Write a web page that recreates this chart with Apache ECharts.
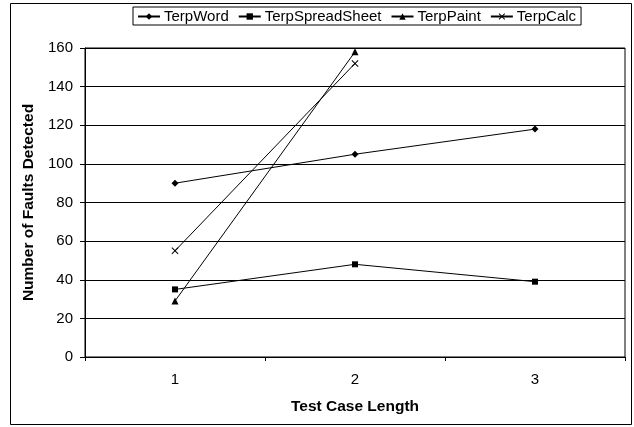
<!DOCTYPE html>
<html><head><meta charset="utf-8">
<script src="https://cdn.jsdelivr.net/npm/echarts@6/dist/echarts.min.js"></script>
<style>html,body{margin:0;padding:0;background:#fff}#c{width:634px;height:427px}</style>
</head><body><div id="c"></div>
<script>
var categories = ['1', '2', '3'];
var terpWord = [90, 105, 118];
var terpSpreadSheet = [35, 48, 39];
var terpPaint = [29, 158, null];
var terpCalc = [55, 152, null];
var yTicks = [0, 20, 40, 60, 80, 100, 120, 140, 160];

var FONT = '"Liberation Sans", Arial, sans-serif';
var crossPath = 'path://M0,1L1,0L5,4L9,0L10,1L6,5L10,9L9,10L5,6L1,10L0,9L4,5Z';
function ser(name, data, symbol, size) {
  return {
    name: name, type: 'line', data: data, symbol: symbol, symbolSize: size,
    showSymbol: true, connectNulls: false, animation: false,
    lineStyle: { color: '#000', width: 1 },
    itemStyle: { color: '#000' }
  };
}
var chart = echarts.init(document.getElementById('c'), null, { renderer: 'canvas' });
chart.setOption({
  backgroundColor: '#fff',
  animation: false,
  graphic: [{ type: 'rect', shape: { x: 10.5, y: 3.5, width: 621, height: 421 },
    style: { fill: 'none', stroke: '#000', lineWidth: 1 }, z: -1 }],
  legend: {
    left: 133, top: 7, padding: [2, 5, 1, 4], itemGap: 9, itemWidth: 22, itemHeight: 8,
    borderColor: '#000', borderWidth: 1, backgroundColor: '#fff',
    textStyle: { fontFamily: FONT, fontSize: 15, color: '#000', padding: [0, 0, 0, -1] },
    data: ['TerpWord', 'TerpSpreadSheet', 'TerpPaint', 'TerpCalc']
  },
  grid: { left: 85, right: 9, top: 48, bottom: 70, show: true, borderColor: '#000', borderWidth: 1 },
  xAxis: {
    type: 'category', data: categories, boundaryGap: true,
    name: 'Test Case Length', nameLocation: 'middle', nameGap: 42,
    nameTextStyle: { fontFamily: FONT, fontSize: 15.5, fontWeight: 'bold', color: '#000' },
    axisLine: { lineStyle: { color: '#000' } },
    axisTick: { show: true, length: 4, lineStyle: { color: '#000' } },
    axisLabel: { fontFamily: FONT, fontSize: 15, color: '#000', margin: 15 }
  },
  yAxis: {
    type: 'value', min: yTicks[0], max: yTicks[yTicks.length - 1], interval: 20,
    name: 'Number of Faults Detected', nameLocation: 'middle', nameGap: 47,
    nameTextStyle: { fontFamily: FONT, fontSize: 15.5, fontWeight: 'bold', color: '#000' },
    axisLine: { show: true, lineStyle: { color: '#000' } },
    axisTick: { show: true, length: 5, lineStyle: { color: '#000' } },
    axisLabel: { fontFamily: FONT, fontSize: 15, color: '#000', margin: 12 },
    splitLine: { show: true, lineStyle: { color: '#000', width: 1 } }
  },
  series: [
    ser('TerpWord', terpWord, 'diamond', 7),
    ser('TerpSpreadSheet', terpSpreadSheet, 'rect', 6),
    ser('TerpPaint', terpPaint, 'triangle', 7),
    ser('TerpCalc', terpCalc, crossPath, 7)
  ]
});
</script></body></html>
